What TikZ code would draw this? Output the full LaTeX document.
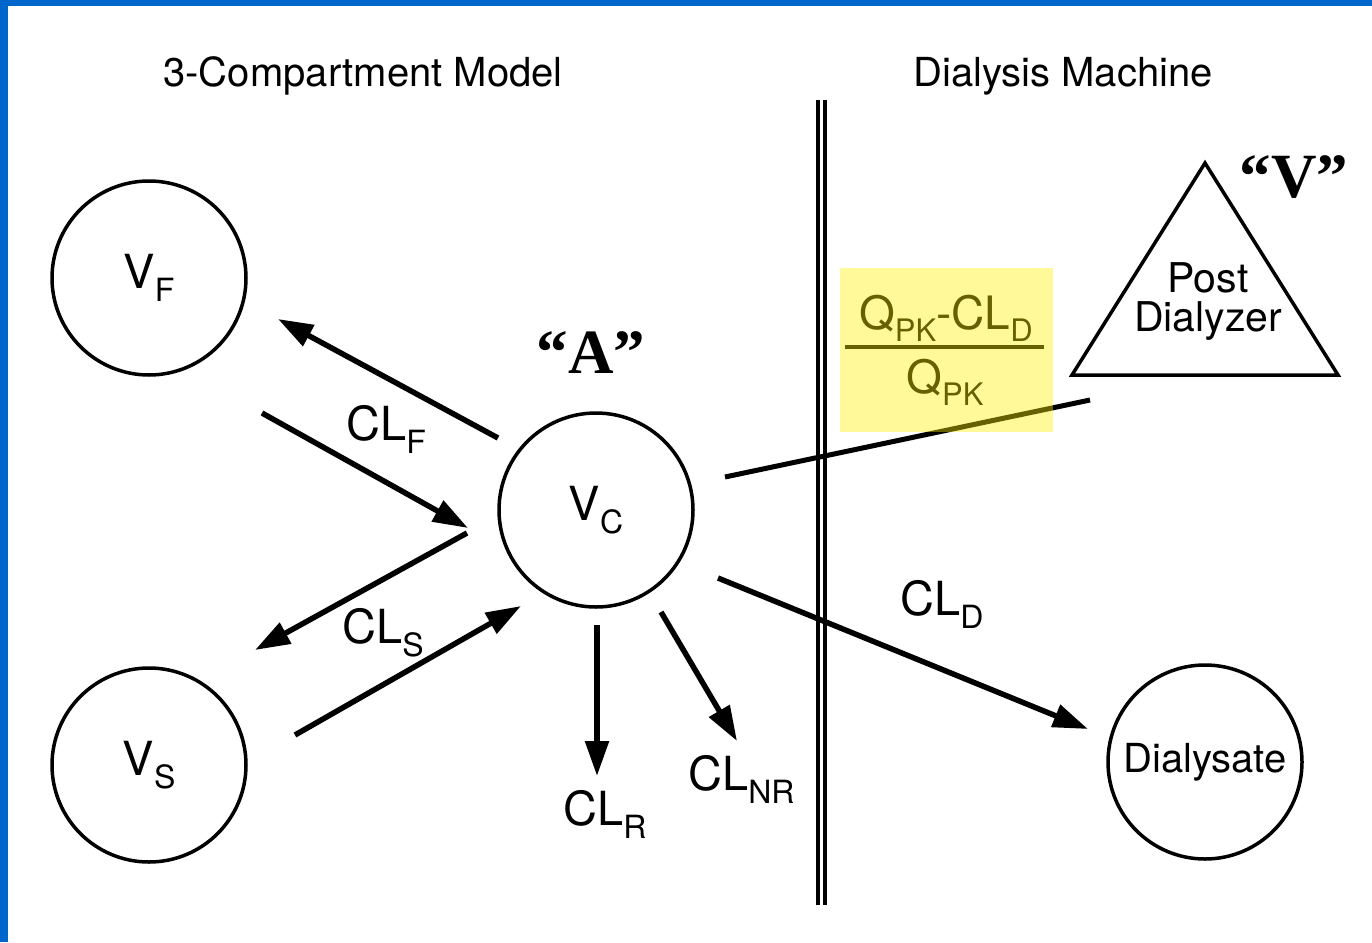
\documentclass[tikz,border=0pt]{standalone}
\usepackage{fontspec}
\setmainfont{TeX Gyre Heros}
\newfontfamily\quotefont{Liberation Serif}
\usetikzlibrary{arrows.meta}
\definecolor{frameblue}{HTML}{0066CC}
\newcommand{\mysub}[1]{\raisebox{-13pt}{\fontsize{32}{32}\selectfont #1}}
\newcommand{\fracsub}[1]{\raisebox{-12pt}{\fontsize{31}{31}\selectfont #1}}
\begin{document}
\begin{tikzpicture}[x=1pt,y=-1pt,
  comp/.style={draw,circle,line width=3.5pt,minimum size=194pt,inner sep=0pt,font=\fontsize{47}{47}\selectfont},
  lab/.style={inner sep=0pt,anchor=base west,font=\fontsize{47}{47}\selectfont},
  head/.style={inner sep=0pt,anchor=base,font=\fontsize{40}{40}\selectfont},
  quot/.style={inner sep=0pt,anchor=base,font=\quotefont\bfseries\fontsize{63}{63}\selectfont},
  arr/.style={line width=5.5pt,-{Triangle[length=35pt,width=23pt]}},
  link/.style={line width=5pt}]
\fill[white] (0,0) rectangle (1372,942);
\useasboundingbox (0,0) rectangle (1372,942);
\fill[frameblue] (0,0) rectangle (1372,6);
\fill[frameblue] (0,0) rectangle (8,942);

% headings
\node[head] (h1) at (363,86) {3-Compartment Model};
\node[head] (h2) at (1063,86) {Dialysis Machine};

% separator
\draw[line width=4pt] (817.5,100) -- (817.5,905);
\draw[line width=4pt] (824.5,100) -- (824.5,905);

% compartments
\node[comp] (vf) at (149,278) {V\mysub{F}};
\node[comp] (vs) at (149,765) {V\mysub{S}};
\node[comp] (vc) at (596,510) {V\mysub{C}};
\node[comp,font=\fontsize{40}{40}\selectfont] (dial) at (1205,762) {Dialysate};

% triangle
\coordinate (ta) at (1205,163);
\coordinate (tl) at (1072,375);
\coordinate (tr) at (1338,375);
\draw[line width=3.5pt,line join=miter] (ta) -- (tl) -- (tr) -- cycle;
\node[head,font=\fontsize{41}{41}\selectfont] (post) at (1208,292) {Post};
\node[head,font=\fontsize{41}{41}\selectfont] (dialyzer) at (1208,331) {Dialyzer};

% quoted letters
\node[quot] (qa) at (591,373) {“A”};
\node[quot] (qv) at (1294,197) {“V”};

% arrow endpoints
\coordinate (a1s) at (498,438); \coordinate (a1e) at (278,319);
\coordinate (a2s) at (262,413); \coordinate (a2e) at (468,528);
\coordinate (a3s) at (467,533); \coordinate (a3e) at (255,650);
\coordinate (a4s) at (295,735); \coordinate (a4e) at (521,606);
\coordinate (a5s) at (597,625); \coordinate (a5e) at (597,776);
\coordinate (a6s) at (661,612); \coordinate (a6e) at (737,741);
\coordinate (a7s) at (718,578); \coordinate (a7e) at (1088,729);
\coordinate (l1s) at (725,477); \coordinate (l1e) at (1090,400);

\draw[arr] (a1s) -- (a1e);
\draw[arr] (a2s) -- (a2e);
\draw[arr] (a3s) -- (a3e);
\draw[arr] (a4s) -- (a4e);
\draw[arr] (a5s) -- (a5e);
\draw[arr] (a6s) -- (a6e);
\draw[arr] (a7s) -- (a7e);
\draw[link] (l1s) -- (l1e);

% clearance labels
\node[lab] (clf) at (346,440) {CL\mysub{F}};
\node[lab] (cls) at (342,643) {CL\mysub{S}};
\node[lab] (clr) at (563,825) {CL\mysub{R}};
\node[lab] (clnr) at (688,790) {CL\mysub{NR}};
\node[lab] (cld) at (900,615) {CL\mysub{D}};

% fraction
\node[inner sep=0pt,anchor=base,font=\fontsize{46}{46}\selectfont] (num) at (946,329) {Q\fracsub{PK}-CL\fracsub{D}};
\node[inner sep=0pt,anchor=base,font=\fontsize{46}{46}\selectfont] (den) at (945,393) {Q\fracsub{PK}};
\coordinate (barl) at (845,347); \coordinate (barr) at (1044,347);
\draw[line width=4pt] (barl) -- (barr);
\fill[yellow,fill opacity=0.4] (840,268) rectangle (1053,432);
\end{tikzpicture}
\end{document}
